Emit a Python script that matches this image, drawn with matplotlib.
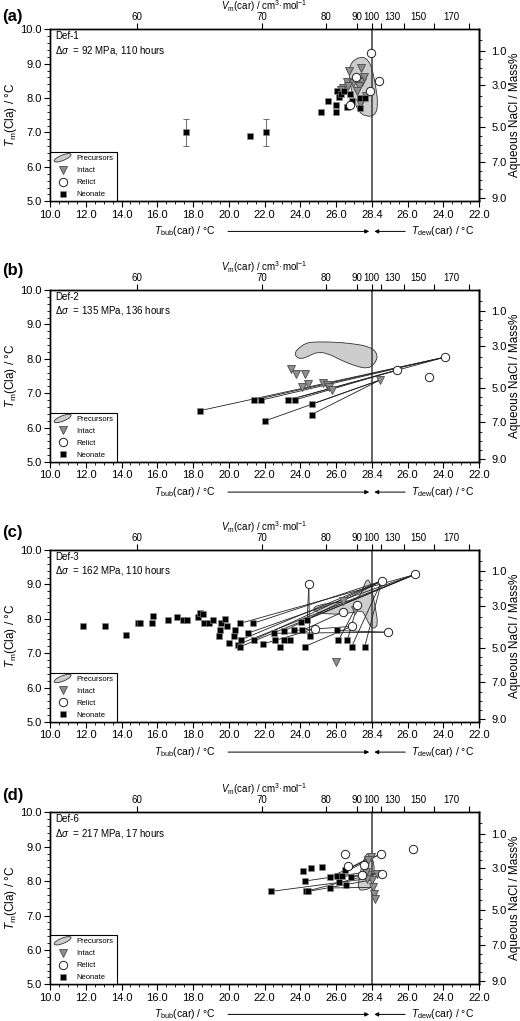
import numpy as np
import matplotlib
matplotlib.use('Agg')
import matplotlib.pyplot as plt
import matplotlib.patches as mpatches
from matplotlib.path import Path
from matplotlib.lines import Line2D
from matplotlib.legend_handler import HandlerPatch
from matplotlib.ticker import FixedLocator, FormatStrFormatter

plt.rcParams['font.family'] = ['Liberation Sans', 'DejaVu Sans']
plt.rcParams['mathtext.fontset'] = 'custom'
plt.rcParams['mathtext.rm'] = 'Liberation Sans'
plt.rcParams['mathtext.it'] = 'Liberation Sans:italic'
plt.rcParams['mathtext.bf'] = 'Liberation Sans:bold'
plt.rcParams['axes.linewidth'] = 1.0

# x = value read on the bottom scale: T_bub(car) up to 28.4,
# past the critical point x = 56.8 - T_dew(car) (right-hand branch)

# ---- Def-1 ----
a_neo_x = [17.6, 21.2, 22.1, 25.16, 25.55, 26.0, 26.0, 26.04, 26.22, 26.31, 26.53, 26.72, 26.94, 27.10, 27.61, 27.61, 27.93]
a_neo_y = [7.0, 6.9, 7.0, 7.61, 7.91, 7.80, 7.61, 8.21, 8.02, 8.12, 8.22, 7.74, 8.12, 7.92, 8.00, 7.71, 8.00]
a_neo_err = [0.4, 0, 0.4, 0, 0, 0, 0, 0, 0, 0, 0, 0, 0, 0, 0, 0, 0]
a_int_x = [27.71, 26.90, 26.72, 27.12, 27.48, 27.77, 26.49, 26.80, 27.54, 27.88, 27.44, 27.77, 27.61, 27.99, 26.31]
a_int_y = [8.87, 8.80, 8.48, 8.45, 8.50, 8.48, 8.29, 8.34, 8.34, 8.61, 8.22, 7.95, 7.85, 8.05, 8.24]
a_rel_x = [28.33, 28.89, 28.26, 27.32, 26.92]
a_rel_y = [9.30, 8.50, 8.21, 8.60, 7.80]
a_pre_x = [27.66, 28.15, 28.45, 28.67, 28.82, 28.67, 28.06, 27.48, 27.10, 26.83, 27.03]
a_pre_y = [9.21, 9.13, 8.82, 8.34, 7.85, 7.51, 7.45, 7.61, 8.09, 8.72, 9.06]
a_ties = []

# ---- Def-2 ----
b_neo_x = [18.37, 21.40, 21.83, 23.31, 23.68, 24.63, 24.63, 22.00]
b_neo_y = [6.49, 6.80, 6.80, 6.80, 6.80, 6.68, 6.38, 6.19]
b_neo_err = [0] * 8
b_int_x = [23.51, 23.76, 24.24, 24.11, 24.43, 25.29, 25.48, 25.60, 25.76, 28.94]
b_int_y = [7.69, 7.57, 7.57, 7.18, 7.28, 7.30, 7.25, 7.18, 7.09, 7.38]
b_rel_x = [30.08, 32.91, 32.01]
b_rel_y = [7.67, 8.05, 7.48]
b_pre_x = [24.67, 25.70, 26.99, 28.33, 28.85, 28.55, 28.11, 27.44, 26.31, 25.51, 24.95, 24.48, 24.06, 23.75, 23.70, 23.96, 24.30]
b_pre_y = [8.49, 8.49, 8.45, 8.35, 8.11, 7.82, 7.72, 7.77, 7.96, 8.16, 8.20, 8.08, 7.99, 8.06, 8.19, 8.33, 8.45]
b_ties = [(0, 'r', 1), (1, 'r', 1), (2, 'r', 1), (3, 'r', 1), (3, 'r', 0), (4, 'r', 0),
          (5, 'i', 9), (6, 'i', 9), (7, 'i', 9)]

# ---- Def-3 ----
c_neo_x = [11.83, 13.08, 14.26, 14.92, 15.05, 15.70, 15.79, 16.60, 17.10, 17.44,
           17.66, 18.28, 18.41, 18.56, 18.64, 18.88, 19.12, 19.44, 19.53, 19.57,
           19.81, 19.91, 20.04, 20.28, 20.37, 20.50, 20.65, 20.65, 20.69, 21.06,
           21.37, 21.40, 21.93, 22.52, 22.58, 22.86, 23.08, 23.08, 23.42, 23.64,
           24.02, 24.11, 24.24, 24.39, 24.52, 26.04, 26.16, 26.76, 27.05, 27.93]
c_neo_y = [7.78, 7.78, 7.54, 7.87, 7.87, 7.87, 8.07, 7.97, 8.05, 7.97,
           7.97, 8.05, 8.18, 8.15, 7.88, 7.88, 7.97, 7.49, 7.68, 7.88,
           7.98, 7.78, 7.29, 7.49, 7.66, 7.25, 7.19, 7.87, 7.39, 7.58,
           7.87, 7.39, 7.27, 7.58, 7.39, 7.19, 7.64, 7.39, 7.39, 7.66,
           7.90, 7.66, 7.19, 7.97, 7.49, 7.66, 7.37, 7.37, 7.19, 7.19]
c_neo_err = [0] * 50
c_int_x = [26.47, 25.98, 27.30]
c_int_y = [8.52, 6.73, 8.25]
c_rel_x = [24.48, 29.07, 31.23, 27.44, 26.47, 27.05, 24.82, 29.49]
c_rel_y = [9.01, 9.10, 9.29, 8.41, 8.20, 7.78, 7.71, 7.61]
c_pre_x = [28.11, 28.33, 28.51, 28.67, 28.82, 28.60, 28.33, 27.99, 27.77, 26.99,
           26.09, 25.32, 24.86, 24.71, 24.95, 25.70, 26.53, 27.32, 27.71, 27.88]
c_pre_y = [9.17, 9.03, 8.63, 8.25, 7.86, 7.71, 7.76, 8.05, 8.25, 8.17,
           8.13, 8.15, 8.20, 8.30, 8.39, 8.46, 8.49, 8.56, 8.73, 8.98]
c_ties = [(26, 'r', 2), (25, 'r', 2), (29, 'r', 2), (27, 'r', 2), (40, 'r', 2),
          (30, 'r', 1), (28, 'r', 1), (31, 'r', 1), (36, 'r', 1), (48, 'r', 1), (49, 'r', 1),
          (47, 'r', 3), (46, 'r', 3), (43, 'r', 0), (44, 'r', 0), (45, 'r', 7), (33, 'r', 7),
          (41, 'r', 4), (42, 'r', 5), (39, 'r', 5), (32, 'r', 6)]

# ---- Def-6 ----
d_neo_x = [22.37, 24.15, 24.62, 25.20, 24.24, 24.30, 24.45, 25.64, 25.66, 26.04, 26.43, 26.60, 26.20, 26.65, 27.03]
d_neo_y = [7.70, 8.28, 8.39, 8.41, 8.00, 7.70, 7.70, 7.80, 8.12, 8.14, 8.14, 8.31, 7.97, 7.90, 8.12]
d_neo_err = [0] * 15
d_int_x = [28.33, 28.15, 28.45, 28.51, 28.55, 28.60, 28.11, 28.74, 27.99, 28.15]
d_int_y = [8.70, 8.17, 8.04, 7.82, 7.63, 7.49, 8.07, 8.22, 8.26, 8.61]
d_rel_x = [26.60, 29.05, 31.08, 26.80, 27.73, 29.07, 27.88]
d_rel_y = [8.80, 8.80, 8.92, 8.43, 8.19, 8.22, 8.46]
d_pre_x = [28.11, 28.51, 28.59, 28.45, 27.88, 27.48, 27.55, 27.85]
d_pre_y = [8.85, 8.65, 8.22, 7.82, 7.73, 7.75, 8.12, 8.61]
d_ties = [(0, 'i', 6), (5, 'i', 1), (6, 'i', 2), (4, 'i', 8), (8, 'r', 1), (9, 'r', 1),
          (11, 'i', 0), (10, 'r', 5), (14, 'i', 7), (7, 'i', 3)]

# bottom scale ticks
bot_tick_x = [10, 12, 14, 16, 18, 20, 22, 24, 26, 28.4, 30.8, 32.8, 34.8]
bot_tick_lab = ['10.0', '12.0', '14.0', '16.0', '18.0', '20.0', '22.0', '24.0', '26.0',
                '28.4', '26.0', '24.0', '22.0']
# molar volume of the carbonic phase on the top scale
vm_lab = ['60', '70', '80', '90', '100']
vm_x = [14.86, 21.87, 25.42, 27.39, 28.4]
vm_lab2 = ['130', '150', '170']
vm_x2 = [29.78, 31.43, 33.23]
vm_tick2 = [29.0, 30.55, 32.27, 34.24]
# clathrate melting T vs salinity
nacl_wt = [0, 1, 2, 3, 4, 5, 6, 7, 8, 9, 10]
nacl_tm = [10.0, 9.38, 8.87, 8.37, 7.76, 7.15, 6.65, 6.15, 5.62, 5.10, 4.58]

S_K = [-90.0, 10.0, 26.0, 28.4, 30.8, 34.8, 134.8]
P_K = [-50.0, 0.0, 8.0, 9.0, 10.0, 12.0, 62.0]


def fwd(s):
    return np.interp(s, S_K, P_K)


def inv(p):
    return np.interp(p, P_K, S_K)


def tm2wt(t):
    return np.interp(t, nacl_tm[::-1], nacl_wt[::-1])


def wt2tm(w):
    return np.interp(w, nacl_wt, nacl_tm)


def blob_path(xs, ys):
    pts = np.column_stack([xs, ys])
    mids = (pts + np.roll(pts, -1, axis=0)) / 2
    verts = [mids[-1]]
    codes = [Path.MOVETO]
    for p, m in zip(pts, mids):
        verts += [p, m]
        codes += [Path.CURVE3, Path.CURVE3]
    verts.append(mids[-1])
    codes.append(Path.CLOSEPOLY)
    return Path(verts, codes)


def make_blob(legend, orig_handle, xdescent, ydescent, width, height, fontsize):
    return mpatches.Ellipse((width / 2 - xdescent, height / 2 - ydescent),
                            width * 0.95, height * 1.0, angle=22)


PRE_FC, PRE_EC = '#cdcdcd', '#333333'
INT_FC, INT_EC = '#8e8e8e', '#4a4a4a'

panels = [
    ('(a)', 'Def-1', '92 MPa, 110 hours', a_neo_x, a_neo_y, a_neo_err, a_int_x, a_int_y,
     a_rel_x, a_rel_y, a_pre_x, a_pre_y, a_ties),
    ('(b)', 'Def-2', '135 MPa, 136 hours', b_neo_x, b_neo_y, b_neo_err, b_int_x, b_int_y,
     b_rel_x, b_rel_y, b_pre_x, b_pre_y, b_ties),
    ('(c)', 'Def-3', '162 MPa, 110 hours', c_neo_x, c_neo_y, c_neo_err, c_int_x, c_int_y,
     c_rel_x, c_rel_y, c_pre_x, c_pre_y, c_ties),
    ('(d)', 'Def-6', '217 MPa, 17 hours', d_neo_x, d_neo_y, d_neo_err, d_int_x, d_int_y,
     d_rel_x, d_rel_y, d_pre_x, d_pre_y, d_ties),
]
tops = [29.3, 290, 550, 812.3]
tag_y = [16, 270, 533, 795]

W, H = 520, 1021
fig = plt.figure(figsize=(W / 100, H / 100), dpi=100)

for (tag, name, cond, nx, ny, nerr, ix, iy, rx, ry, px_, py_, ties), top, ty in zip(panels, tops, tag_y):
    ax = fig.add_axes([50 / W, 1 - (top + 172) / H, 429 / W, 172 / H])
    ax.set_xscale('function', functions=(fwd, inv))
    ax.set_xlim(10, 34.8)
    ax.set_ylim(5, 10)

    ax.axvline(28.4, color='#3a3a3a', lw=1.1, zorder=1.5)
    ax.add_patch(mpatches.PathPatch(blob_path(px_, py_), fc=PRE_FC, ec=PRE_EC, lw=0.6, zorder=1))

    for i, kind, j in ties:
        tx, tyy = (rx[j], ry[j]) if kind == 'r' else (ix[j], iy[j])
        ax.plot([nx[i], tx], [ny[i], tyy], color='#222222', lw=0.6, zorder=2)

    ex = [x for x, e in zip(nx, nerr) if e > 0]
    ey = [y for y, e in zip(ny, nerr) if e > 0]
    ee = [e for e in nerr if e > 0]
    if ee:
        ax.errorbar(ex, ey, yerr=ee, fmt='none', ecolor='#555555', elinewidth=0.6,
                    capsize=2, capthick=0.6, zorder=3)

    ax.plot(ix, iy, ls='none', marker='v', ms=5.8, mfc=INT_FC, mec=INT_EC, mew=0.6, zorder=3)
    ax.plot(nx, ny, ls='none', marker='s', ms=4.8, mfc='black', mec='#8a8a8a', mew=0.4, zorder=4)
    ax.plot(rx, ry, ls='none', marker='o', ms=6, mfc='white', mec='#222222', mew=0.7, zorder=5)

    # bottom axis
    ax.xaxis.set_major_locator(FixedLocator(bot_tick_x))
    ax.set_xticklabels(bot_tick_lab)
    ax.xaxis.set_minor_locator(FixedLocator(inv(np.arange(0, 12.01, 0.25))))
    ax.yaxis.set_major_locator(FixedLocator([5, 6, 7, 8, 9, 10]))
    ax.yaxis.set_major_formatter(FormatStrFormatter('%.1f'))
    ax.yaxis.set_minor_locator(FixedLocator(np.arange(5, 10.01, 0.2)))
    ax.tick_params(which='major', direction='out', length=4, width=0.8, labelsize=8, pad=2)
    ax.tick_params(which='minor', direction='out', length=2.5, width=0.6)
    ax.text(-0.092, 0.5, r'$T_{\mathrm{m}}$(Cla) / °C', transform=ax.transAxes, fontsize=8.5,
            rotation=90, ha='center', va='center')

    # top axis: molar volume
    ax2 = ax.twiny()
    ax2.set_xscale('function', functions=(fwd, inv))
    ax2.set_xlim(10, 34.8)
    ax2.set_xticks(vm_x + vm_tick2, vm_lab + [''] * len(vm_tick2))
    ax2.set_xticks(vm_x2, vm_lab2, minor=True)
    ax2.tick_params(which='major', direction='out', length=4, width=0.8, labelsize=7, pad=1.0)
    ax2.tick_params(which='minor', length=0, labelsize=7, pad=5.0)
    ax.text(0.5, 1.135, r'$V_{\mathrm{m}}$(car) / cm$^{3}$·mol$^{-1}$', transform=ax.transAxes,
            fontsize=7, ha='center', va='center')

    # right axis: salinity
    sec = ax.secondary_yaxis('right', functions=(tm2wt, wt2tm))
    sec.set_yticks([1, 3, 5, 7, 9])
    sec.yaxis.set_major_formatter(FormatStrFormatter('%.1f'))
    sec.yaxis.set_minor_locator(FixedLocator(np.arange(0.5, 9.1, 0.5)))
    sec.tick_params(which='major', direction='out', length=4, width=0.8, labelsize=8, pad=5)
    sec.tick_params(which='minor', direction='out', length=2.5, width=0.6)
    ax.text(1.083, 0.5, 'Aqueous NaCl / Mass%', transform=ax.transAxes, fontsize=8.5,
            rotation=90, ha='center', va='center')

    ax.text(0.012, 0.962, name, transform=ax.transAxes, fontsize=7, va='center')
    ax.text(0.012, 0.878, r'$\Delta\sigma$  = ' + cond, transform=ax.transAxes, fontsize=7, va='center')

    yb = -0.175
    ax.text(0.315, yb, r'$T_{\mathrm{bub}}$(car) / °C', transform=ax.transAxes,
            ha='center', va='center', fontsize=7.5)
    ax.text(0.916, yb, r'$T_{\mathrm{dew}}$(car) / °C', transform=ax.transAxes,
            ha='center', va='center', fontsize=7.5)
    arrow = dict(arrowstyle='-|>', lw=0.7, color='black', mutation_scale=6,
                 shrinkA=0, shrinkB=0)
    ax.annotate('', xy=(0.744, yb), xytext=(0.415, yb), xycoords='axes fraction', arrowprops=arrow)
    ax.annotate('', xy=(0.756, yb), xytext=(0.828, yb), xycoords='axes fraction', arrowprops=arrow)

    handles = [
        mpatches.Patch(fc=PRE_FC, ec=PRE_EC, lw=0.6, label='Precursors'),
        Line2D([], [], ls='none', marker='v', ms=5.8, mfc=INT_FC, mec=INT_EC, mew=0.6, label='Intact'),
        Line2D([], [], ls='none', marker='o', ms=6, mfc='white', mec='#222222', mew=0.7, label='Relict'),
        Line2D([], [], ls='none', marker='s', ms=4.8, mfc='black', mec='#8a8a8a', mew=0.4, label='Neonate'),
    ]
    leg = ax.legend(handles=handles, loc='lower left', bbox_to_anchor=(0, 0), borderaxespad=0,
                    fontsize=5.5, fancybox=False, edgecolor='black', framealpha=1,
                    handlelength=2.5, handletextpad=0.6, labelspacing=0.6, borderpad=0.4,
                    numpoints=1, handler_map={mpatches.Patch: HandlerPatch(patch_func=make_blob)})
    leg.get_frame().set_linewidth(0.8)
    leg.set_zorder(10)

    fig.text(0.004, 1 - ty / H, tag, fontsize=12, fontweight='bold', va='center')

fig.savefig('out.png', dpi=100, facecolor='white')
